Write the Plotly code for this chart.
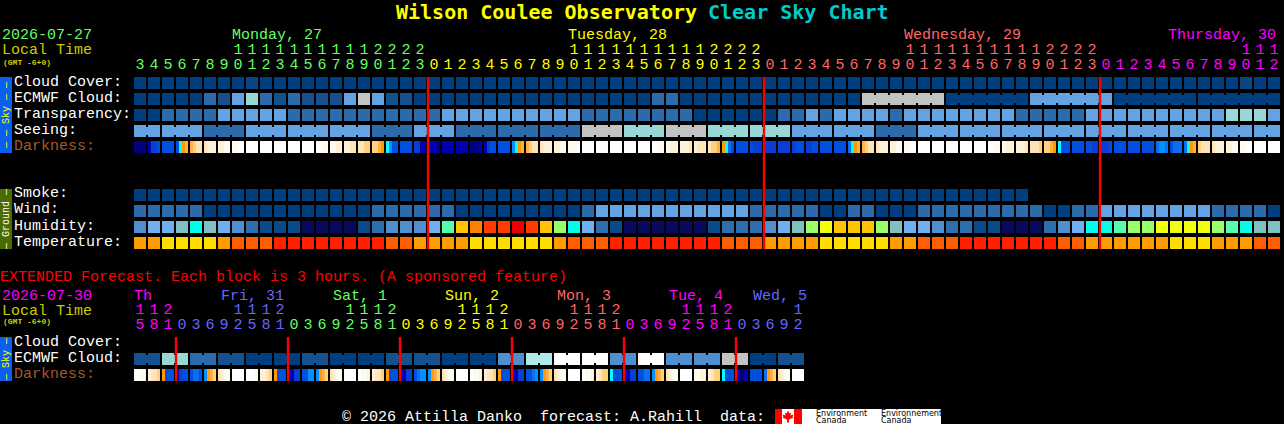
import plotly.graph_objs as go

WIDTH = 1284
HEIGHT = 424

# colour levels used by the sky and wind rows
CLOUD_COLORS = ["#003f7f", "#13528f", "#2b6bab", "#4f8fcf", "#63a3e3", "#98d8d4",
                "#aeeaea", "#c3c3c3", "#ffffff", "#0b4684"]
HUMIDITY_COLORS = ["#08085f", "#0a4a8a", "#2e6eae", "#4f8fd0", "#70b0f0", "#80c0c0", "#00ffe8",
                   "#55ffaa", "#99ff66", "#eeff11", "#ffc400", "#ff8000", "#ff3b00", "#ee0000"]
TEMP_COLORS = ["#ff9c00", "#ffdd00", "#ff5e00", "#ff2000"]
DARK_COLORS = ["#000080", "#0000b0", "#0a3ed2", "#0050e0", "#0a6ff0", "#0090ff", "#00ffff",
               "#ff9900", "#ffb040", "#ffd080", "#ffe4b5", "#fff0d8", "#fffaf0", "#ffffff"]

GREEN = "#66ff66"
YELLOW = "#ffff00"
SALMON = "#ff6666"
MAGENTA = "#ff00ff"
BLUE = "#6666ff"

# main chart, one block per hour
day_hours = [
    list(range(3, 24)),
    list(range(0, 24)),
    list(range(0, 24)),
    list(range(0, 13)),
]
day_names = ["Monday, 27", "Tuesday, 28", "Wednesday, 29", "Thursday, 30"]
day_colors = [GREEN, YELLOW, SALMON, MAGENTA]

cloud_cover = [0, 0, 0, 0, 0, 0, 0, 0, 9, 0, 0, 0, 0, 0, 0, 0, 0, 0, 0, 0, 0,
               0, 0, 0, 0, 0, 0, 0, 0, 0, 0, 0, 0, 0, 0, 0, 0, 0, 0, 0, 0, 0, 0, 0, 0,
               0, 0, 0, 0, 0, 0, 0, 0, 0, 0, 0, 0, 0, 0, 0, 0, 0, 0, 0, 0, 0, 0, 0, 0,
               0, 0, 0, 0, 0, 0, 0, 0, 0, 0, 9, 0, 0]
ecmwf_cloud = [0, 0, 0, 0, 0, 2, 1, 4, 5, 2, 1, 2, 1, 1, 1, 4, 7, 4, 1, 1, 0,
               0, 0, 0, 0, 0, 0, 0, 0, 0, 0, 0, 0, 0, 0, 0, 0, 2, 2, 0, 0, 0, 0, 0, 0,
               0, 0, 0, 0, 0, 0, 0, 7, 7, 7, 7, 7, 7, 0, 0, 0, 0, 0, 0, 4, 4, 4, 4, 4, 4,
               0, 0, 0, 0, 0, 0, 0, 0, 0, 0, 0, 0]
transparency = [0, 0, 2, 2, 2, 2, 4, 4, 4, 4, 4, 2, 2, 2, 2, 2, 2, 2, 2, 2, 2,
                2, 4, 4, 4, 4, 4, 4, 4, 4, 4, 4, 2, 2, 2, 2, 2, 2, 2, 2, 0, 0, 0, 0, 0,
                0, 2, 2, 4, 2, 4, 4, 4, 4, 2, 4, 4, 4, 4, 4, 4, 4, 4, 2, 2, 2, 2, 2, 4,
                4, 4, 4, 4, 4, 4, 4, 4, 4, 5, 5, 5, 4]
seeing = [4, 4, 4, 4, 4, 2, 2, 2, 4, 4, 4, 4, 4, 4, 4, 4, 4, 2, 2, 2, 4,
          4, 4, 2, 2, 2, 2, 2, 2, 2, 2, 2, 7, 7, 7, 5, 5, 5, 7, 7, 7, 5, 5, 5, 5,
          5, 5, 4, 4, 4, 4, 4, 4, 2, 2, 2, 4, 4, 4, 4, 4, 4, 4, 4, 4, 4, 4, 4, 4,
          4, 4, 4, 4, 4, 4, 4, 4, 4, 4, 4, 4, 4]
smoke = [0, 0, 0, 0, 0, 0, 0, 0, 0, 0, 0, 0, 0, 0, 0, 0, 0, 0, 0, 0, 0,
         0, 0, 0, 0, 0, 0, 0, 0, 0, 0, 0, 0, 0, 0, 0, 0, 0, 0, 0, 0, 0, 0, 0, 0,
         0, 0, 0, 0, 0, 0, 0, 0, 0, 0, 0, 0, 0, 0, 0, 0, 0, 0, 0]
wind = [2, 2, 2, 2, 2, 0, 0, 0, 0, 0, 0, 0, 0, 0, 0, 0, 0, 2, 2, 2, 2,
        2, 2, 0, 0, 0, 0, 0, 0, 0, 0, 0, 2, 4, 4, 4, 4, 4, 4, 4, 4, 4, 4, 4, 2,
        2, 2, 2, 2, 0, 0, 2, 2, 0, 0, 0, 2, 2, 2, 2, 2, 2, 2, 2, 2, 0, 0, 2, 2,
        4, 4, 4, 4, 4, 4, 4, 4, 2, 2, 2, 2, 0]
humidity = [3, 4, 4, 5, 6, 5, 4, 3, 2, 1, 1, 1, 0, 0, 0, 0, 1, 2, 3, 3, 3,
            4, 7, 10, 11, 12, 12, 13, 12, 10, 8, 6, 4, 2, 1, 0, 0, 0, 0, 0, 0, 1, 2, 2, 2,
            3, 4, 5, 8, 9, 10, 10, 10, 8, 5, 4, 4, 3, 2, 2, 1, 1, 0, 0, 0, 2, 3, 4, 6,
            6, 7, 8, 8, 9, 9, 9, 9, 8, 7, 6, 5, 5]
temperature = [0, 0, 1, 1, 1, 1, 0, 2, 2, 2, 3, 3, 3, 3, 3, 3, 3, 3, 2, 2, 0,
               0, 0, 0, 1, 1, 1, 1, 1, 1, 0, 2, 2, 2, 3, 3, 3, 3, 3, 3, 3, 3, 2, 2, 2,
               0, 0, 0, 0, 1, 1, 1, 1, 1, 0, 0, 2, 2, 2, 3, 3, 3, 3, 3, 3, 3, 2, 2, 0,
               0, 0, 0, 0, 0, 1, 1, 1, 0, 0, 0, 2, 2]
# four readings across each hour block
darkness = [
    [0, 0, 0, 0], [1, 2, 2, 3], [3, 3, 3, 3], [3, 6, 7, 8], [8, 9, 10, 10], [10, 11, 11, 11],
    [11, 11, 12, 12], [12, 12, 13, 13], [13, 13, 13, 13], [13, 13, 13, 13], [13, 13, 13, 13],
    [13, 13, 13, 13], [13, 13, 13, 13], [13, 13, 12, 12], [12, 12, 11, 11], [11, 11, 10, 10],
    [10, 10, 9, 9], [9, 9, 8, 7], [6, 5, 3, 3], [3, 3, 3, 3], [2, 2, 1, 1],
    [1, 1, 1, 0], [1, 1, 1, 1], [1, 1, 1, 1], [0, 0, 0, 1], [1, 2, 3, 3], [3, 3, 3, 3],
    [5, 6, 7, 8], [8, 9, 10, 10], [10, 11, 11, 11], [11, 11, 12, 12], [12, 12, 12, 13],
    [13, 13, 13, 13], [13, 13, 13, 13], [13, 13, 13, 13], [13, 13, 13, 13], [13, 13, 13, 13],
    [13, 13, 12, 12], [12, 11, 11, 11], [11, 11, 11, 10], [11, 10, 10, 10], [10, 9, 9, 8],
    [7, 6, 4, 3], [3, 3, 3, 3], [3, 2, 2, 2], [2, 2, 2, 2], [2, 2, 2, 2], [2, 3, 3, 3],
    [2, 2, 3, 3], [3, 3, 3, 3], [3, 3, 3, 3], [4, 6, 7, 8], [8, 9, 10, 10], [10, 11, 11, 11],
    [11, 11, 12, 12], [12, 12, 13, 13], [13, 13, 13, 13], [13, 13, 13, 13], [13, 13, 13, 13],
    [13, 13, 13, 13], [13, 13, 13, 13], [13, 13, 12, 12], [12, 11, 11, 11], [11, 11, 11, 10],
    [10, 10, 10, 9], [9, 9, 8, 7], [6, 3, 3, 3], [3, 3, 3, 3], [3, 3, 2, 2], [2, 2, 2, 3],
    [3, 3, 3, 3], [3, 3, 3, 3], [3, 3, 3, 3], [4, 5, 5, 4], [3, 4, 4, 4], [4, 6, 7, 8],
    [9, 10, 10, 10], [10, 11, 11, 11], [11, 11, 12, 12], [12, 12, 13, 13], [13, 13, 13, 13],
    [13, 13, 13, 13],
]
# runs of blocks that share one forecast value
seeing_runs = [2, 3, 3, 3, 3, 3, 3, 3, 3, 3, 3, 3, 3, 3, 3, 3, 3, 3, 3, 3, 3, 3, 3, 3, 3, 3, 3, 2]
ecmwf_runs = [1] * 52 + [6, 6, 6, 6, 6]

# extended chart, one block per 3 hours
ext_day_hours = [
    [15, 18, 21],
    [0, 3, 6, 9, 12, 15, 18, 21],
    [0, 3, 6, 9, 12, 15, 18, 21],
    [0, 3, 6, 9, 12, 15, 18, 21],
    [0, 3, 6, 9, 12, 15, 18, 21],
    [0, 3, 6, 9, 12, 15, 18, 21],
    [0, 3, 6, 9, 12],
]
ext_day_names = ["Th", "Fri, 31", "Sat, 1", "Sun, 2", "Mon, 3", "Tue, 4", "Wed, 5"]
ext_day_colors = [MAGENTA, BLUE, GREEN, YELLOW, SALMON, MAGENTA, BLUE]
ext_ecmwf = [1, 1, 5, 5, 2, 2, 1, 1, 0, 0, 0, 0, 1, 1, 0, 0, 0, 0, 1, 1, 1, 1, 0, 0,
             0, 0, 3, 3, 6, 6, 8, 8, 8, 8, 3, 3, 8, 8, 3, 3, 3, 3, 7, 7, 0, 0, 1, 1]
ext_darkness = [
    [13, 13, 12, 12], [11, 10, 10, 9], [7, 3, 3, 3], [1, 2, 3, 3], [3, 4, 4, 3], [5, 7, 8, 9],
    [10, 11, 12, 12], [13, 13, 13, 13], [13, 13, 13, 12], [11, 11, 10, 9], [7, 3, 3, 3],
    [1, 1, 2, 2], [3, 3, 5, 5], [5, 7, 8, 9], [10, 11, 12, 12], [13, 13, 13, 13], [13, 12, 12, 11],
    [11, 10, 10, 9], [7, 3, 3, 3], [1, 1, 2, 2], [3, 4, 5, 5], [5, 7, 8, 9], [10, 11, 12, 12],
    [13, 13, 13, 13], [13, 12, 12, 11], [11, 10, 10, 9], [7, 3, 3, 3], [1, 1, 2, 2], [3, 3, 4, 5],
    [5, 7, 8, 9], [10, 11, 12, 12], [13, 13, 13, 13], [13, 12, 12, 11], [11, 10, 9, 9],
    [6, 3, 3, 3], [1, 1, 2, 2], [3, 3, 4, 4], [5, 7, 8, 9], [10, 11, 12, 12], [13, 13, 13, 13],
    [12, 12, 11, 11], [11, 10, 9, 9], [6, 3, 3, 3], [1, 0, 0, 1], [3, 3, 3, 3], [4, 7, 8, 9],
    [10, 11, 12, 12], [13, 13, 13, 13],
]
ext_ecmwf_runs = [2] * 24

# pixel layout: blocks are 12 px wide on a 14 px pitch, rows 12 px on a 16 px pitch
X0_PX = 140
PITCH_X = 14
Y0_PX = 83
PITCH_Y = 16
HALF_W = 6 / PITCH_X
HALF_H = 6 / PITCH_Y
BRIDGE_H = 4 / PITCH_Y
MONO = "Liberation Mono"


def row_y(py):
    return (py - Y0_PX) / PITCH_Y


def discrete_scale(colors):
    n = len(colors)
    scale = []
    for k, color in enumerate(colors):
        scale.append([k / n, color])
        scale.append([(k + 1) / n, color])
    return scale


def add_heat(fig, x_edges, z, y, half, colors):
    fig.add_trace(
        go.Heatmap(
            x=x_edges,
            y=[y - half, y + half],
            z=[z],
            zmin=-0.5,
            zmax=len(colors) - 0.5,
            colorscale=discrete_scale(colors),
            showscale=False,
            hoverinfo="skip",
        )
    )


def add_row(fig, values, colors, py, runs=None):
    """One row of separated blocks, plus the bridges that join a run of blocks."""
    edges, z = [], []
    for i, value in enumerate(values):
        edges += [i - HALF_W, i + HALF_W]
        z += [value, None]
    add_heat(fig, edges, z[:-1], row_y(py), HALF_H, colors)

    if runs:
        joined = set()
        start = 0
        for run in runs:
            joined.update(range(start, start + run - 1))
            start += run
        edges, z = [], []
        for i in range(len(values) - 1):
            edges += [i + HALF_W, i + 1 - HALF_W]
            z += [values[i] if i in joined else None, None]
        add_heat(fig, edges, z[:-1], row_y(py), BRIDGE_H, colors)


def add_darkness(fig, blocks, py):
    edges, z = [], []
    for i, stops in enumerate(blocks):
        step = 2 * HALF_W / len(stops)
        edges += [i - HALF_W + k * step for k in range(len(stops))]
        edges.append(i + HALF_W)
        z += stops + [None]
    add_heat(fig, edges, z[:-1], row_y(py), HALF_H, DARK_COLORS)


def add_hours(fig, hours_by_day, colors, tens_py, ones_py):
    i = 0
    for hours, color in zip(hours_by_day, colors):
        idx = list(range(i, i + len(hours)))
        i += len(hours)
        tens = [str(h // 10) if h >= 10 else "" for h in hours]
        ones = [str(h % 10) for h in hours]
        for labels, py in ((tens, tens_py), (ones, ones_py)):
            fig.add_trace(
                go.Scatter(
                    x=idx,
                    y=[row_y(py)] * len(idx),
                    mode="text",
                    text=labels,
                    textposition="middle center",
                    textfont=dict(family=MONO, size=15, color=color),
                    hoverinfo="skip",
                )
            )


def add_midnights(fig, hours_by_day, top_py, bottom_py):
    xs, ys = [], []
    i = 0
    for hours in hours_by_day:
        if hours[0] == 0:
            xs += [i - HALF_W, i - HALF_W, None]
            ys += [row_y(top_py), row_y(bottom_py), None]
        i += len(hours)
    fig.add_trace(
        go.Scatter(x=xs, y=ys, mode="lines", line=dict(color="#ff0000", width=2.4), hoverinfo="skip")
    )


def label(fig, text, px, py, color="#ffffff", size=15, family=MONO, angle=0, xanchor="left"):
    # annotations land one pixel right of and above the requested spot
    fig.add_annotation(
        text=text,
        x=(px - 1) / WIDTH,
        y=1 - (py + 1) / HEIGHT,
        xref="paper",
        yref="paper",
        xanchor=xanchor,
        yanchor="middle",
        showarrow=False,
        textangle=angle,
        borderpad=0,
        font=dict(family=family, size=size, color=color),
    )


def box(fig, x0, y0, x1, y1, color):
    fig.add_shape(
        type="rect",
        xref="paper",
        yref="paper",
        x0=x0 / WIDTH,
        x1=x1 / WIDTH,
        y0=1 - y0 / HEIGHT,
        y1=1 - y1 / HEIGHT,
        fillcolor=color,
        line_width=0,
        layer="below",
    )


def add_logo(fig):
    box(fig, 775, 409, 941, 424, "#ffffff")
    box(fig, 775, 409, 782, 424, "#ff0000")
    box(fig, 794, 409, 802, 424, "#ff0000")
    leaf = [(0, -6), (1.5, -3), (3, -4), (2.5, -1), (5.5, -2), (4.5, 0), (5.5, 1), (1, 3),
            (1, 6), (-1, 6), (-1, 3), (-5.5, 1), (-4.5, 0), (-5.5, -2), (-2.5, -1), (-3, -4),
            (-1.5, -3)]
    points = [((788 + dx) / WIDTH, 1 - (416.5 + dy) / HEIGHT) for dx, dy in leaf]
    path = "M " + " L ".join(f"{x:.5f} {y:.5f}" for x, y in points) + " Z"
    fig.add_shape(type="path", path=path, xref="paper", yref="paper",
                  fillcolor="#ff0000", line_width=0, layer="below")
    for px, top, bottom in ((816, "Environment", "Canada"), (881, "Environnement", "Canada")):
        label(fig, top, px, 412, color="#000000", size=8, family="DejaVu Sans")
        label(fig, bottom, px, 419, color="#000000", size=8, family="DejaVu Sans")


fig = go.Figure()

# tabs at the far left sit under everything else
box(fig, 0, 77, 12, 153, "#0a5ff0")
box(fig, 0, 189, 12, 249, "#4b6a00")
box(fig, 0, 337, 12, 381, "#0a5ff0")
add_logo(fig)

# main chart rows
add_row(fig, cloud_cover, CLOUD_COLORS, 83)
add_row(fig, ecmwf_cloud, CLOUD_COLORS, 99, runs=ecmwf_runs)
add_row(fig, transparency, CLOUD_COLORS, 115)
add_row(fig, seeing, CLOUD_COLORS, 131, runs=seeing_runs)
add_darkness(fig, darkness, 147)
add_row(fig, smoke, CLOUD_COLORS, 195)
add_row(fig, wind, CLOUD_COLORS, 211)
add_row(fig, humidity, HUMIDITY_COLORS, 227)
add_row(fig, temperature, TEMP_COLORS, 243)

# extended chart rows
add_row(fig, ext_ecmwf, CLOUD_COLORS, 359, runs=ext_ecmwf_runs)
add_darkness(fig, ext_darkness, 375)

add_midnights(fig, day_hours, 77, 249)
add_midnights(fig, ext_day_hours, 337, 381)
add_hours(fig, day_hours, day_colors, 50, 65)
add_hours(fig, ext_day_hours, ext_day_colors, 310, 325)

# titles and labels
label(fig, "<b>Wilson Coulee Observatory</b>", 396, 11, color="#ffff00", size=20, family="DejaVu Sans Mono")
label(fig, "<b>Clear Sky Chart</b>", 708, 11, color="#00cccc", size=20, family="DejaVu Sans Mono")
label(fig, "2026-07-27", 2, 35, color=GREEN)
label(fig, "Local Time", 2, 50, color="#cccc00")
label(fig, "<b>(GMT -6+0)</b>", 3, 61, color="#cccc00", size=8)

for name, px, color in zip(day_names, [232, 568, 904, 1168], day_colors):
    label(fig, name, px, 35, color=color)

for text, py, color in (
    ("Cloud Cover:", 81, "#ffffff"),
    ("ECMWF Cloud:", 97, "#ffffff"),
    ("Transparency:", 113, "#ffffff"),
    ("Seeing:", 129, "#ffffff"),
    ("Darkness:", 145, "#a5592a"),
    ("Smoke:", 193, "#ffffff"),
    ("Wind:", 209, "#ffffff"),
    ("Humidity:", 225, "#ffffff"),
    ("Temperature:", 241, "#ffffff"),
    ("Cloud Cover:", 341, "#ffffff"),
    ("ECMWF Cloud:", 357, "#ffffff"),
    ("Darkness:", 373, "#a5592a"),
):
    label(fig, text, 14, py, color=color)

label(fig, "— — Sky — —", 7, 114, color="#ffff00", size=10, angle=-90, xanchor="center")
label(fig, "— Ground —", 7, 218, color="#ffffff", size=10, angle=-90, xanchor="center")
label(fig, "— Sky —", 7, 358, color="#ffff00", size=10, angle=-90, xanchor="center")

label(fig, "EXTENDED Forecast. Each block is 3 hours. (A sponsored feature)", 0, 276, color="#ff0000")
label(fig, "2026-07-30", 2, 295, color=MAGENTA)
label(fig, "Local Time", 2, 310, color="#cccc00")
label(fig, "<b>(GMT -6+0)</b>", 3, 320, color="#cccc00", size=8)

for name, px, color in zip(ext_day_names, [134, 221, 333, 445, 557, 669, 753], ext_day_colors):
    label(fig, name, px, 295, color=color)

label(fig, "©\u00a02026\u00a0Attilla\u00a0Danko\u00a0\u00a0forecast:\u00a0A.Rahill\u00a0\u00a0data:", 342, 416)

fig.update_layout(
    width=WIDTH,
    height=HEIGHT,
    autosize=False,
    margin=dict(l=0, r=0, t=0, b=0),
    paper_bgcolor="#000000",
    plot_bgcolor="#000000",
    showlegend=False,
    xaxis=dict(visible=False, range=[(0 - X0_PX) / PITCH_X, (WIDTH - X0_PX) / PITCH_X], fixedrange=True),
    yaxis=dict(visible=False, range=[row_y(HEIGHT), row_y(0)], fixedrange=True),
)

fig.write_html(
    "out.html",
    config={"displayModeBar": False},
    post_script="document.body.style.margin='0';document.body.style.overflow='hidden';",
)
